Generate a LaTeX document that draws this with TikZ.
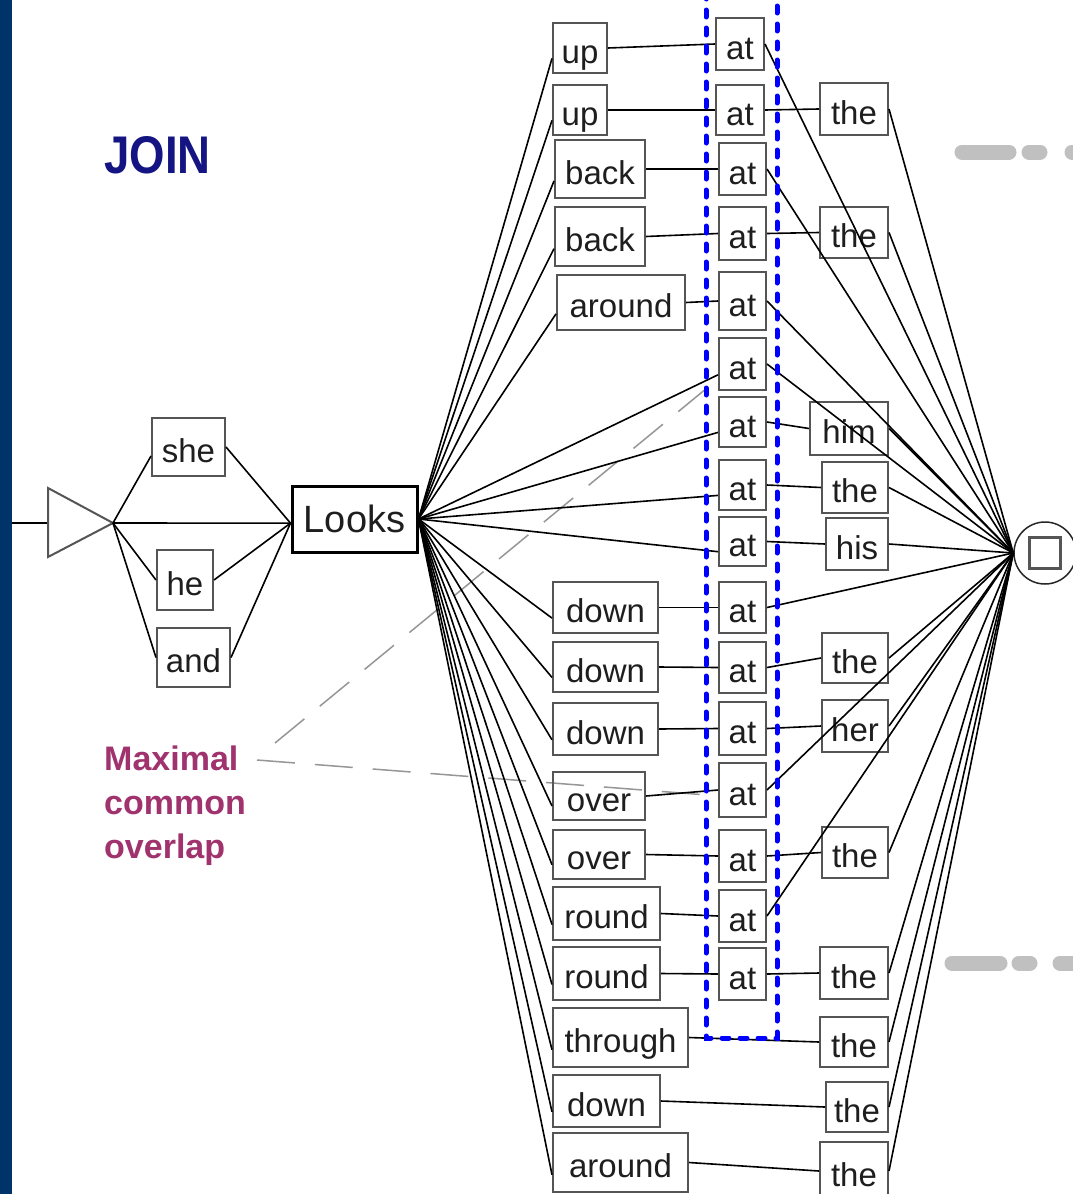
\documentclass[tikz,border=0pt]{standalone}
\usepackage{fontspec}
\setmainfont{Liberation Sans}
\usepackage{graphicx}
\usetikzlibrary{calc}
\definecolor{bandblue}{RGB}{0,52,104}
\definecolor{boxgray}{RGB}{85,85,85}
\definecolor{wordink}{RGB}{30,30,30}
\definecolor{zoneblue}{RGB}{0,0,255}
\definecolor{notegray}{RGB}{150,150,150}
\definecolor{decogray}{RGB}{192,192,192}
\definecolor{joinnavy}{RGB}{20,20,130}
\definecolor{plum}{RGB}{160,50,110}

\tikzset{
  wbox/.style={draw=boxgray, line width=2pt, inner sep=0pt, text=wordink,
    font=\fontsize{33}{38}\selectfont, text height=30pt, text depth=0pt},
  mainbox/.style={wbox, draw=black, line width=3pt,
    font=\fontsize{38}{44}\selectfont, text height=26pt},
  trans/.style={draw=black, line width=1.6pt},
  zone/.style={draw=zoneblue, line width=5pt, line cap=round, dash pattern=on 7pt off 11pt},
  notelink/.style={draw=notegray, line width=1.5pt, dash pattern=on 38pt off 20pt},
  deco/.style={draw=decogray, line width=15pt, line cap=round},
  notetext/.style={font=\fontsize{34}{44}\selectfont\bfseries, text=plum, anchor=base west, inner sep=0pt}
}

% word box given by its corners: name, x1, y1, x2, y2, text
\newcommand\wbx[7][]{%
  \pgfmathsetmacro\wbW{#5-#3}\pgfmathsetmacro\wbH{#6-#4}%
  \pgfmathsetmacro\wbX{(#3+#5)/2}\pgfmathsetmacro\wbY{(#4+#6)/2}%
  \node[wbox,#1,minimum width=\wbW pt,minimum height=\wbH pt] (#2) at (\wbX,\wbY) {#7};}

\begin{document}
\begin{tikzpicture}[x=1pt,y=-1pt]
\useasboundingbox (0,0) rectangle (1073,1194);
\fill[white] (0,0) rectangle (1073,1194);
\fill[bandblue] (0,0) rectangle (12,1194);

% decorative strokes on the right
\draw[deco] (962,152) -- (1009,152);
\draw[deco] (1029,152) -- (1040,152);
\draw[deco] (1072,152) -- (1085,152);
\draw[deco] (952,963) -- (1000,963);
\draw[deco] (1019,963) -- (1030,963);
\draw[deco] (1060,963) -- (1085,963);

% title
\node[anchor=base west, inner sep=0pt, text=joinnavy,
      font=\fontsize{53}{60}\selectfont\bfseries] (title) at (104,173)
      {\scalebox{0.86}[1]{JOIN}};

% annotation
\node[notetext] (noteA) at (104,770) {Maximal};
\node[notetext] (noteB) at (104,814) {common};
\node[notetext] (noteC) at (104,858) {overlap};
\coordinate (noteUp) at (275,743);
\coordinate (noteDn) at (257,760);
\coordinate (ovTop) at (707,388);
\coordinate (ovBot) at (707,795);
\draw[notelink] (noteUp) -- (ovTop);
\draw[notelink] (noteDn) -- (ovBot);

% initial state
\coordinate (entry) at (12,523);
\coordinate (triL) at (48,523);
\coordinate (init) at (113,523);
\draw[trans] (entry) -- (triL);
\draw[draw=boxgray, line width=2pt, line join=miter] (48,488) -- (init) -- (48,557) -- cycle;

% subject words
\wbx{she}{152}{418}{225}{476}{she}
\wbx{he}{157}{550}{213}{610}{he}
\wbx{and}{157}{628}{230}{687}{and}
\wbx[mainbox]{looks}{292}{486}{417}{552}{Looks}

% particles
\wbx{c1}{553}{23}{607}{73}{up}
\wbx{c2}{553}{85}{607}{135}{up}
\wbx{c3}{555}{140}{645}{198}{back}
\wbx{c4}{555}{207}{645}{266}{back}
\wbx{c5}{557}{275}{685}{330}{around}
\wbx{c6}{553}{582}{658}{633}{down}
\wbx{c7}{553}{642}{658}{692}{down}
\wbx{c8}{553}{703}{658}{755}{down}
\wbx{c9}{553}{772}{645}{820}{over}
\wbx{c10}{553}{830}{645}{879}{over}
\wbx{c11}{553}{887}{660}{940}{round}
\wbx{c12}{553}{947}{660}{1000}{round}
\wbx{c13}{553}{1008}{688}{1067}{through}
\wbx{c14}{553}{1075}{660}{1127}{down}
\wbx{c15}{553}{1133}{688}{1192}{around}

% "at" column
\wbx{a1}{716}{18}{764}{70}{at}
\wbx{a2}{716}{85}{764}{135}{at}
\wbx{a3}{719}{143}{766}{195}{at}
\wbx{a4}{719}{207}{766}{260}{at}
\wbx{a5}{719}{272}{766}{330}{at}
\wbx{a6}{719}{338}{766}{390}{at}
\wbx{a7}{719}{397}{766}{447}{at}
\wbx{a8}{719}{460}{766}{510}{at}
\wbx{a9}{719}{517}{766}{566}{at}
\wbx{a10}{719}{582}{766}{633}{at}
\wbx{a11}{719}{642}{766}{693}{at}
\wbx{a12}{719}{702}{766}{755}{at}
\wbx{a13}{719}{763}{766}{817}{at}
\wbx{a14}{719}{830}{766}{882}{at}
\wbx{a15}{719}{890}{766}{942}{at}
\wbx{a16}{719}{948}{766}{1000}{at}

% determiners and pronouns
\wbx{t1}{820}{83}{888}{135}{the}
\wbx{t2}{820}{207}{888}{258}{the}
\wbx{t3}{810}{402}{888}{455}{him}
\wbx{t4}{822}{462}{888}{513}{the}
\wbx{t5}{826}{518}{888}{570}{his}
\wbx{t6}{822}{633}{888}{683}{the}
\wbx{t7}{822}{700}{888}{752}{her}
\wbx{t8}{822}{827}{888}{878}{the}
\wbx{t9}{820}{947}{888}{999}{the}
\wbx{t10}{820}{1017}{888}{1067}{the}
\wbx{t11}{826}{1082}{888}{1132}{the}
\wbx{t12}{820}{1142}{888}{1200}{the}

% final state
\node[circle, draw=black!85, line width=1.5pt, minimum size=62pt, inner sep=0pt] (final) at (1045,553) {};
\node[draw=boxgray, line width=3pt, minimum size=31pt, inner sep=0pt] (finalsq) at (final.center) {};

% transitions
\draw[trans] (init) -- ($(she.west)!0.3!(she.south west)$);
\draw[trans] (init) -- (he.west);
\draw[trans] (init) -- (and.west);
\draw[trans] (init) -- ($(looks.west)!0.12!(looks.south west)$);
\foreach \s in {she,he,and} \draw[trans] (\s.east) -- ($(looks.west)!0.12!(looks.south west)$);

\foreach \c in {c1,c2,c3,c4,c5,c6,c7,c8,c9,c10,c11,c12,c13,c14,c15}
  \draw[trans] (looks.east) -- ($(\c.west)!0.4!(\c.south west)$);
\foreach \a in {a6,a7,a8,a9}
  \draw[trans] (looks.east) -- ($(\a.west)!0.4!(\a.south west)$);

\foreach \c/\a in {c1/a1,c2/a2,c3/a3,c4/a4,c5/a5,c6/a10,c7/a11,c8/a12,c9/a13,c10/a14,c11/a15,c12/a16}
  \draw[trans] (\c.east) -- (\a.west);
\foreach \a/\t in {a2/t1,a4/t2,a7/t3,a8/t4,a9/t5,a11/t6,a12/t7,a14/t8,a16/t9}
  \draw[trans] (\a.east) -- (\t.west);
\foreach \c/\t in {c13/t10,c14/t11,c15/t12}
  \draw[trans] (\c.east) -- (\t.west);

\foreach \a in {a1,a3,a5,a6,a10,a13,a15}
  \draw[trans] (\a.east) -- (final.west);
\foreach \t in {t1,t2,t3,t4,t5,t6,t7,t8,t9,t10,t11,t12}
  \draw[trans] (\t.east) -- (final.west);

% common "at" zone
\coordinate (zoneTL) at (706,-8);
\coordinate (zoneBL) at (706,1038);
\coordinate (zoneBR) at (777,1038);
\coordinate (zoneTR) at (777,-8);
\draw[zone] (zoneTL) -- (zoneBL) -- (zoneBR) -- (zoneTR);
\end{tikzpicture}
\end{document}
